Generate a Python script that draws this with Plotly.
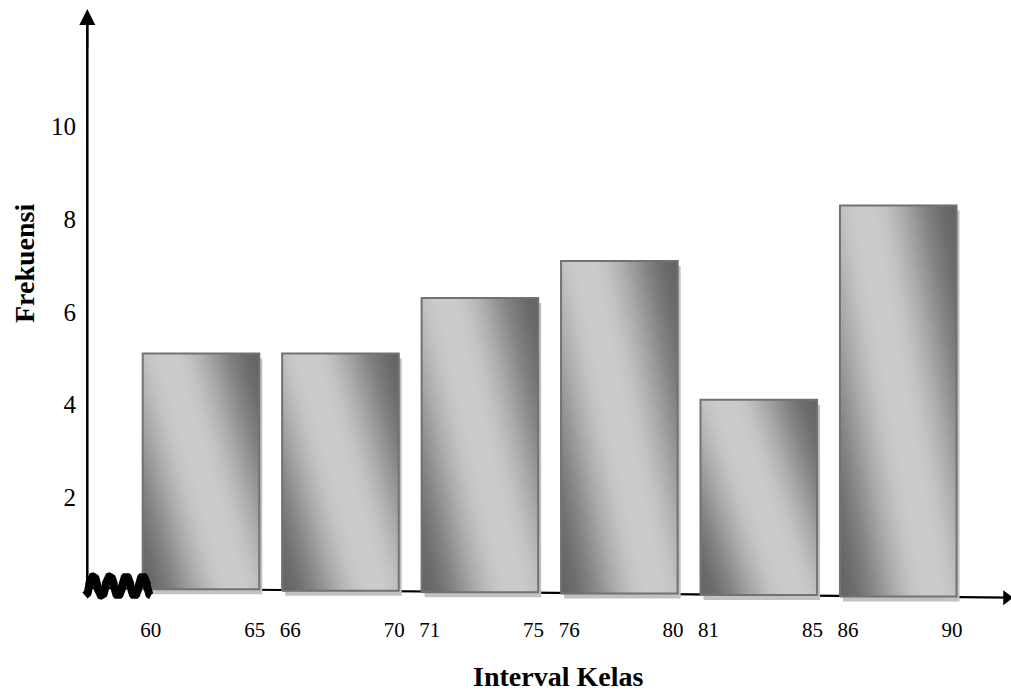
import numpy as np
import plotly.graph_objects as go

# Frequency distribution: class limits and class frequencies
lower = [60, 66, 71, 76, 81, 86]
upper = [65, 70, 75, 80, 85, 90]
freq = [5.1, 5.1, 6.3, 7.1, 4.1, 8.3]
y_ticks = [2, 4, 6, 8, 10]

# ---- page geometry -------------------------------------------------------
W, H = 1011, 695
ML, MR, MT, MB = 80, 0, 5, 80
X_RANGE = [-0.8677, 5.8085]
Y_RANGE = [-0.5487, 12.629]
PW, PH = W - ML - MR, H - MT - MB
SX = PW / (X_RANGE[1] - X_RANGE[0])   # pixels per x unit
SY = PH / (Y_RANGE[1] - Y_RANGE[0])   # pixels per y unit


def dx(px):
    return X_RANGE[0] + (px - ML) / SX


def dy(py):
    return Y_RANGE[1] - (py - MT) / SY


# hand-drawn axes (the horizontal one slopes slightly downwards)
XA0, XA1 = (85, 588), (1010, 597.7)
YA0, YA1 = (87.3, 593), (87.3, 9)
xa0 = (dx(XA0[0]), dy(XA0[1]))
xa1 = (dx(XA1[0]), dy(XA1[1]))


def baseline(x):
    return xa0[1] + (x - xa0[0]) * (xa1[1] - xa0[1]) / (xa1[0] - xa0[0])


HALF = 0.418                 # half bar width (x units)
LIGHT, DARK = 203, 100       # grey levels of the bar shading
N_BANDS = 64
TILT = 0.6                   # weight of the vertical direction in the gradient
S_MAX = 1 + TILT
S_MID = S_MAX / 2

pos = np.arange(len(freq))


def clip(poly, a, b, c):
    """Keep the part of a polygon where a*u + b*w >= c."""
    out = []
    n = len(poly)
    for k in range(n):
        p, q = poly[k], poly[(k + 1) % n]
        fp = a * p[0] + b * p[1] - c
        fq = a * q[0] + b * q[1] - c
        if fp >= 0:
            out.append(p)
        if (fp >= 0) != (fq >= 0):
            t = fp / (fp - fq)
            out.append((p[0] + t * (q[0] - p[0]), p[1] + t * (q[1] - p[1])))
    return out


def shade(d):
    t = min(max((d - 0.05) / 0.95, 0.0), 1.0)
    f = t * t * (3 - 2 * t)
    v = int(round(LIGHT - (LIGHT - DARK) * f))
    return f"rgb({v},{v},{v})"


boxes = []
for i, f in zip(pos, freq):
    left, right = i - HALF, i + HALF
    base = baseline(i)
    boxes.append((left, right, base, f))

fig = go.Figure()

# drop shadow behind every bar
sdx, sdy = 3 / SX, -5 / SY
shx, shy = [], []
for left, right, base, top in boxes:
    shx += [left + sdx, right + sdx, right + sdx, left + sdx, left + sdx, None]
    shy += [base + sdy, base + sdy, top + sdy, top + sdy, base + sdy, None]
fig.add_trace(go.Scatter(x=shx, y=shy, mode="lines", fill="toself",
                         fillcolor="#c2c2c2", line=dict(width=0),
                         hoverinfo="skip"))

# diagonal reflected gradient, built from thin bands grouped by grey level
square = [(0, 0), (1, 0), (1, 1), (0, 1)]
groups = {}
for k in range(N_BANDS):
    s0, s1 = S_MAX * k / N_BANDS, S_MAX * (k + 1) / N_BANDS
    band = clip(clip(square, 1, TILT, s0), -1, -TILT, -s1)
    if len(band) < 3:
        continue
    g = min(k, N_BANDS - 1 - k)
    groups.setdefault(g, []).append(band)

for g in sorted(groups):
    s_c = S_MAX * (g + 0.5) / N_BANDS
    d = abs(s_c - S_MID) / S_MID
    col = shade(d)
    bx, by = [], []
    for left, right, base, top in boxes:
        for band in groups[g]:
            for u, w in band + [band[0]]:
                bx.append(left + u * (right - left))
                by.append(base + w * (top - base))
            bx.append(None)
            by.append(None)
    fig.add_trace(go.Scatter(x=bx, y=by, mode="lines", fill="toself",
                             fillcolor=col, line=dict(color=col, width=0.8),
                             hoverinfo="skip"))

# bar outlines
ox, oy = [], []
for left, right, base, top in boxes:
    ox += [left, left, right, right, left, None]
    oy += [base, top, top, base, base, None]
fig.add_trace(go.Scatter(x=ox, y=oy, mode="lines",
                         line=dict(color="#727272", width=2),
                         hoverinfo="skip"))

# axis-break wave at the origin: four thick rounded humps
t = np.linspace(0, 1, 321)
wave = np.cos(2 * np.pi * 4 * t)
brk_px = 85 + 66 * t
brk_py = 586 + 9.5 * np.sign(wave) * np.abs(wave) ** 0.5
fig.add_trace(go.Scatter(x=[dx(p) for p in brk_px], y=[dy(p) for p in brk_py],
                         mode="lines", line=dict(color="black", width=8),
                         hoverinfo="skip", cliponaxis=False))

# arrow head at the end of the horizontal axis
fig.add_trace(go.Scatter(x=[dx(1006.5)], y=[baseline(dx(1006.5))], mode="markers",
                         marker=dict(symbol="triangle-right", size=13,
                                     color="black", line=dict(width=0)),
                         hoverinfo="skip", cliponaxis=False))

# axis lines
shapes = [
    dict(type="line", xref="x", yref="y", layer="below",
         x0=xa0[0], y0=xa0[1], x1=xa1[0], y1=xa1[1],
         line=dict(color="black", width=2.2)),
    dict(type="line", xref="x", yref="y", layer="below",
         x0=dx(YA0[0]), y0=dy(YA0[1]), x1=dx(YA1[0]), y1=dy(YA1[1] + 8),
         line=dict(color="black", width=2.5)),
]

annotations = [
    # arrow head of the vertical axis
    dict(x=dx(YA1[0]), y=dy(YA1[1]), ax=dx(YA1[0]), ay=dy(YA1[1] + 40),
         xref="x", yref="y", axref="x", ayref="y", text="", showarrow=True,
         arrowhead=2, arrowsize=1.6, arrowwidth=2, arrowcolor="black"),
    # axis titles
    dict(text="<b>Frekuensi</b>", xref="paper", yref="paper",
         x=(24 - ML) / PW, y=1 - (264 - MT) / PH, textangle=-90,
         xanchor="center", yanchor="middle", showarrow=False,
         font=dict(family="Liberation Serif", size=28, color="black")),
    dict(text="<b>Interval Kelas</b>", xref="paper", yref="paper",
         x=(557.5 - ML) / PW, y=1 - (694 - MT) / PH,
         xanchor="center", yanchor="bottom", showarrow=False,
         font=dict(family="Liberation Serif", size=28, color="black")),
]

tick_vals = [i - 0.36 for i in pos] + [i + 0.385 for i in pos]
tick_text = [str(v) for v in lower] + [str(v) for v in upper]

fig.update_layout(
    width=W, height=H,
    margin=dict(l=ML, r=MR, t=MT, b=MB, pad=0),
    paper_bgcolor="white", plot_bgcolor="white",
    showlegend=False,
    shapes=shapes,
    annotations=annotations,
    xaxis=dict(range=X_RANGE, tickvals=tick_vals, ticktext=tick_text,
               showline=False, showgrid=False, zeroline=False, ticks="",
               tickfont=dict(family="Liberation Serif", size=21, color="black"),
               fixedrange=True),
    yaxis=dict(range=Y_RANGE, tickvals=y_ticks, showline=False, showgrid=False,
               zeroline=False, ticks="", ticklabelstandoff=3,
               tickfont=dict(family="Liberation Serif", size=25, color="black"),
               fixedrange=True),
)

fig.write_html("out.html")
